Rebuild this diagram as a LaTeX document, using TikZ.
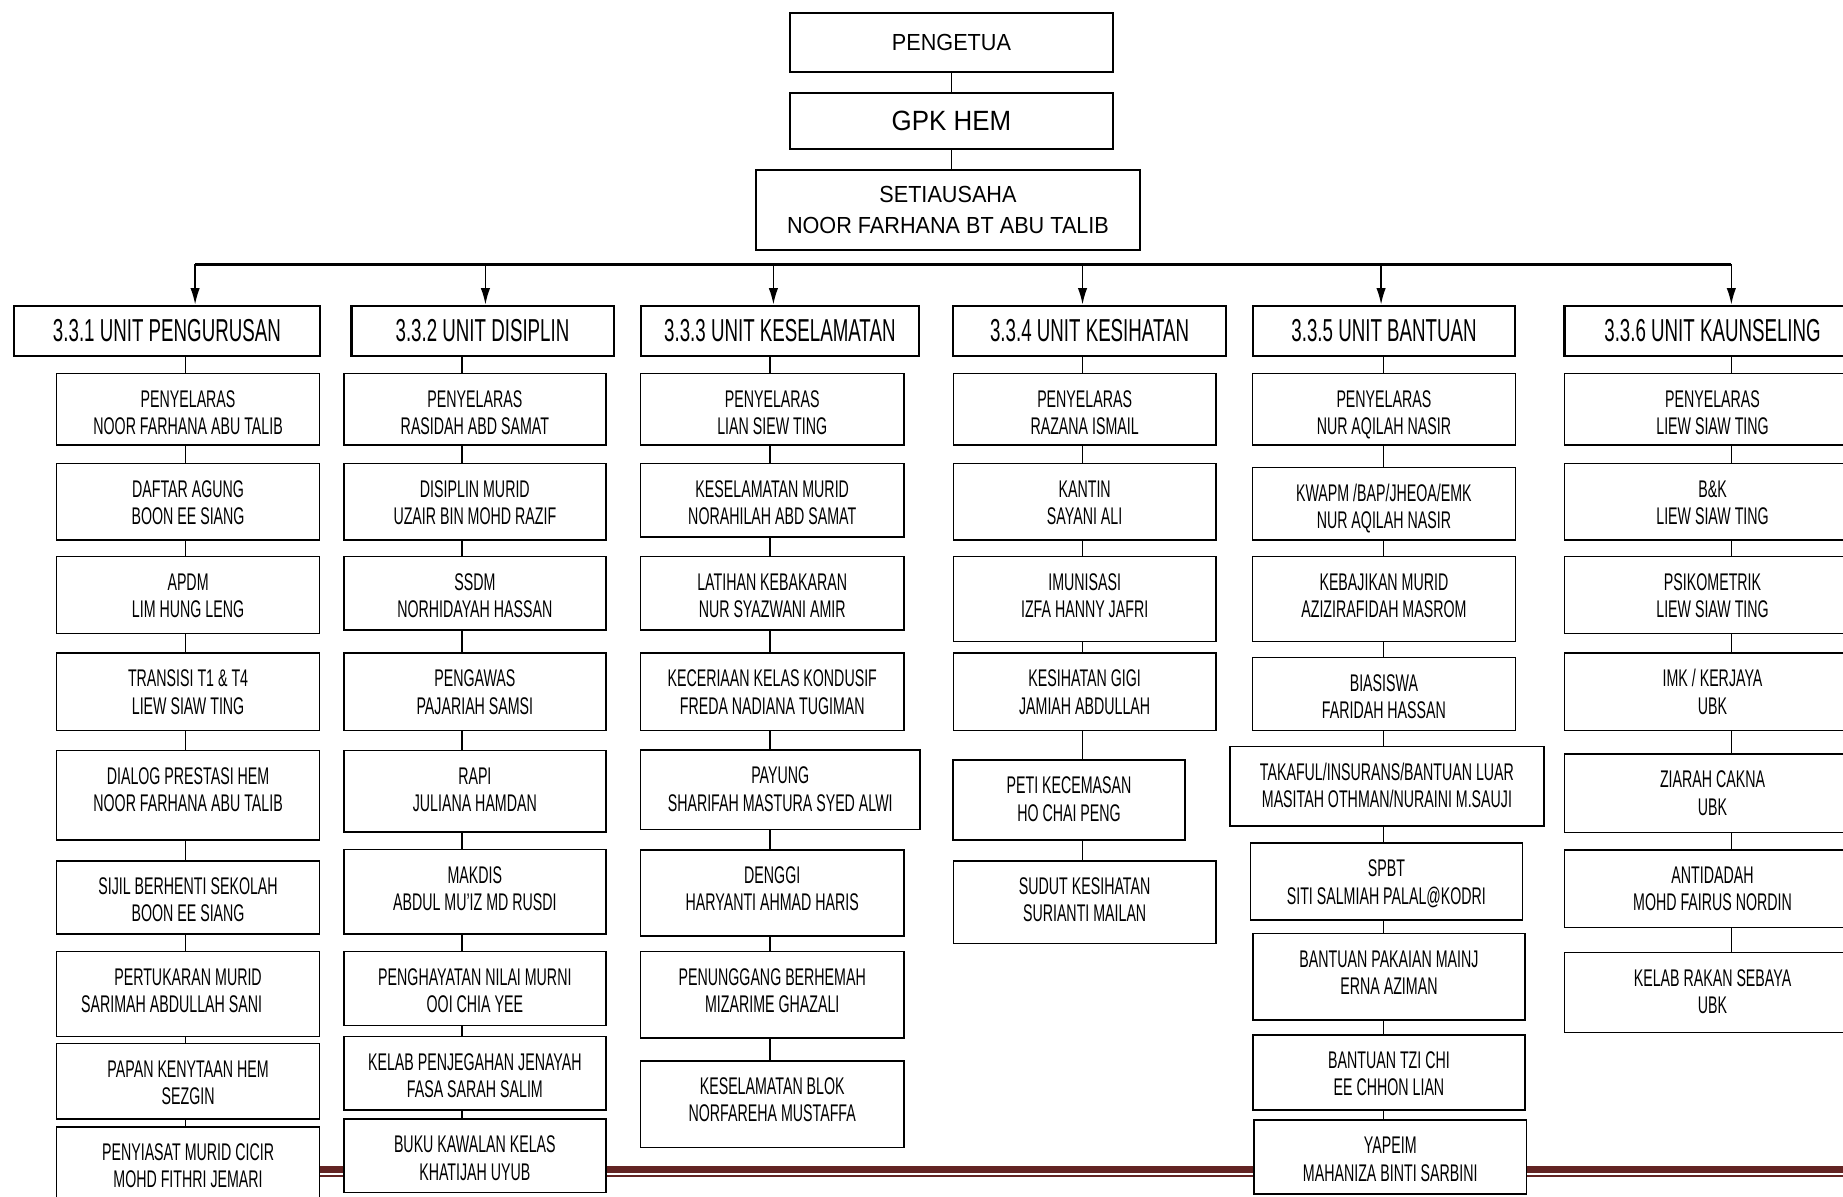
\documentclass[tikz,border=0pt]{standalone}
\usepackage{fontspec}
\setmainfont{Liberation Sans}
\newfontfamily\agency[FakeStretch=0.59]{Liberation Sans}
\newfontfamily\plainsf[FakeStretch=0.93]{Liberation Sans}
\usetikzlibrary{arrows.meta}
\definecolor{footred}{HTML}{632423}

\begin{document}
\begin{tikzpicture}[x=1pt,y=-1pt,
  >={Latex[length=14pt,width=8pt]},
  topbox/.style={draw,line width=1.8pt,fill=white,align=center,inner sep=0pt,
    font=\plainsf\fontsize{19.8}{26.4}\selectfont},
  unitbox/.style={draw,line width=1.8pt,fill=white,inner sep=0pt,minimum height=43pt,
    font=\agency\fontsize{27}{30}\selectfont},
  member/.style={draw,line width=1.3pt,fill=white,anchor=north,align=center,
    inner xsep=0pt,inner ysep=0pt,minimum width=224pt,text height=52pt,
    font=\agency\fontsize{20.5}{23.3}\selectfont},
  link/.style={line width=1.3pt}]

  \useasboundingbox (0,0) rectangle (1568,1018);
  \clip (0,0) rectangle (1568,1018);

  \fill[footred] (48,992) rectangle (1568,998);
  \draw[footred,line width=1.5pt] (48,1000.3) -- (1568,1000.3);

  \node[topbox,minimum width=275pt,minimum height=50pt] (pg) at (809.5,36) {PENGETUA};
  \node[topbox,minimum width=275pt,minimum height=48pt,
    font=\plainsf\fontsize{23.7}{26}\selectfont] (gpk) at (809.5,103) {GPK HEM};
  \node[topbox,minimum width=327pt,minimum height=68pt] (setia) at (806.5,179)
    {SETIAUSAHA\\NOOR FARHANA BT ABU TALIB};

  \draw[link] (pg.south) -- (gpk.north);
  \draw[link] (gpk.south) -- (gpk.south |- setia.north);

  \node[unitbox,minimum width=260pt] (u1) at (142,281.5) {3.3.1 UNIT PENGURUSAN};
  \node[unitbox,minimum width=223pt] (u2) at (410.5,281.5) {3.3.2 UNIT DISIPLIN};
  \node[unitbox,minimum width=237pt] (u3) at (663.5,281.5) {3.3.3 UNIT KESELAMATAN};
  \node[unitbox,minimum width=232pt] (u4) at (927,281.5) {3.3.4 UNIT KESIHATAN};
  \node[unitbox,minimum width=223pt] (u5) at (1177.5,281.5) {3.3.5 UNIT BANTUAN};
  \node[unitbox,minimum width=252pt] (u6) at (1457,281.5) {3.3.6 UNIT KAUNSELING};

  \coordinate (b1) at (166,225);
  \coordinate (b2) at (413,225);
  \coordinate (b3) at (658,225);
  \coordinate (b4) at (921,225);
  \coordinate (b5) at (1175,225);
  \coordinate (b6) at (1473,225);

  \draw[line width=2pt] (b1) -- (b6);
  \draw[->,link] (b1) -- (b1 |- u1.north);
  \draw[->,link] (b2) -- (b2 |- u2.north);
  \draw[->,link] (b3) -- (b3 |- u3.north);
  \draw[->,link] (b4) -- (b4 |- u4.north);
  \draw[->,link] (b5) -- (b5 |- u5.north);
  \draw[->,link] (b6) -- (b6 |- u6.north);

  \node[member,text depth=9pt] (c1n1) at (160,317) {PENYELARAS\\NOOR FARHANA ABU TALIB};
  \node[member,text depth=13.2pt] (c1n2) at (160,393.6) {DAFTAR AGUNG\\BOON EE SIANG};
  \node[member,text depth=13.3pt] (c1n3) at (160,473) {APDM\\LIM HUNG LENG};
  \node[member,text depth=14pt] (c1n4) at (160,555) {TRANSISI T1 \& T4\\LIEW SIAW TING};
  \node[member,text depth=24pt] (c1n5) at (160,638) {DIALOG PRESTASI HEM\\NOOR FARHANA ABU TALIB};
  \node[member,text depth=10.3pt] (c1n6) at (160,731.7) {SIJIL BERHENTI SEKOLAH\\BOON EE SIANG};
  \node[member,text depth=20pt] (c1n7) at (160,809) {PERTUKARAN MURID\\SARIMAH ABDULLAH SANI\hspace*{28pt}};
  \node[member,text depth=12.4pt] (c1n8) at (160,887) {PAPAN KENYTAAN HEM\\SEZGIN};
  \node[member,text depth=20pt] (c1n9) at (160,958) {PENYIASAT MURID CICIR\\MOHD FITHRI JEMARI};

  \node[member,minimum width=223pt,text depth=9pt] (c2n1) at (404,317) {PENYELARAS\\RASIDAH ABD SAMAT};
  \node[member,minimum width=223pt,text depth=13.2pt] (c2n2) at (404,393.6) {DISIPLIN MURID\\UZAIR BIN MOHD RAZIF};
  \node[member,minimum width=223pt,text depth=10.4pt] (c2n3) at (404,473) {SSDM\\NORHIDAYAH HASSAN};
  \node[member,minimum width=223pt,text depth=14pt] (c2n4) at (404,555) {PENGAWAS\\PAJARIAH SAMSI};
  \node[member,minimum width=223pt,text depth=17pt] (c2n5) at (404,638) {RAPI\\JULIANA HAMDAN};
  \node[member,minimum width=223pt,text depth=20pt] (c2n6) at (404,722) {MAKDIS\\ABDUL MU’IZ MD RUSDI};
  \node[member,minimum width=223pt,text depth=11pt] (c2n7) at (404,809) {PENGHAYATAN NILAI MURNI\\OOI CHIA YEE};
  \node[member,minimum width=223pt,text depth=10.8pt] (c2n8) at (404,881) {KELAB PENJEGAHAN JENAYAH\\FASA SARAH SALIM};
  \node[member,minimum width=223pt,text depth=10.4pt] (c2n9) at (404,951.5) {BUKU KAWALAN KELAS\\KHATIJAH UYUB};

  \node[member,text depth=9pt] (c3n1) at (657,317) {PENYELARAS\\LIAN SIEW TING};
  \node[member,text depth=10.4pt] (c3n2) at (657,393.6) {KESELAMATAN MURID\\NORAHILAH ABD SAMAT};
  \node[member,text depth=10.4pt] (c3n3) at (657,473) {LATIHAN KEBAKARAN\\NUR SYAZWANI AMIR};
  \node[member,text depth=14pt] (c3n4) at (657,555) {KECERIAAN KELAS KONDUSIF\\FREDA NADIANA TUGIMAN};
  \node[member,minimum width=237.5pt,text depth=15.5pt] (c3n5) at (663.8,637.5) {PAYUNG\\SHARIFAH MASTURA SYED ALWI};
  \node[member,text depth=21.2pt] (c3n6) at (657,722.3) {DENGGI\\HARYANTI AHMAD HARIS};
  \node[member,text depth=21.5pt] (c3n7) at (657,809) {PENUNGGANG BERHEMAH\\MIZARIME GHAZALI};
  \node[member,text depth=21.8pt] (c3n8) at (657,901.8) {KESELAMATAN BLOK\\NORFAREHA MUSTAFFA};

  \node[member,minimum width=223.5pt,text depth=9pt] (c4n1) at (922.8,317) {PENYELARAS\\RAZANA ISMAIL};
  \node[member,minimum width=223.5pt,text depth=13.2pt] (c4n2) at (922.8,393.6) {KANTIN\\SAYANI ALI};
  \node[member,minimum width=223.5pt,text depth=20pt] (c4n3) at (922.8,473) {IMUNISASI\\IZFA HANNY JAFRI};
  \node[member,minimum width=223.5pt,text depth=14pt] (c4n4) at (922.8,555) {KESIHATAN GIGI\\JAMIAH ABDULLAH};
  \node[member,minimum width=197pt,text depth=16pt] (c4n5) at (909.5,646) {PETI KECEMASAN\\HO CHAI PENG};
  \node[member,minimum width=223.5pt,text depth=18.3pt] (c4n6) at (922.8,731.7) {SUDUT KESIHATAN\\SURIANTI MAILAN};

  \node[member,text depth=9pt] (c5n1) at (1177.4,317) {PENYELARAS\\NUR AQILAH NASIR};
  \node[member,text depth=9.8pt] (c5n2) at (1177.4,397) {KWAPM /BAP/JHEOA/EMK\\NUR AQILAH NASIR};
  \node[member,text depth=20pt] (c5n3) at (1177.4,473) {KEBAJIKAN MURID\\AZIZIRAFIDAH MASROM};
  \node[member,text depth=10.3pt] (c5n4) at (1177.4,558.7) {BIASISWA\\FARIDAH HASSAN};
  \node[member,minimum width=267pt,text depth=15.5pt] (c5n5) at (1180,634.4) {TAKAFUL/INSURANS/BANTUAN LUAR\\MASITAH OTHMAN/NURAINI M.SAUJI};
  \node[member,minimum width=231.6pt,text depth=13.6pt] (c5n6) at (1179.5,716.6) {SPBT\\SITI SALMIAH PALAL@KODRI};
  \node[member,minimum width=231.8pt,text depth=21.7pt] (c5n7) at (1181.7,793.5) {BANTUAN PAKAIAN MAINJ\\ERNA AZIMAN};
  \node[member,minimum width=231.8pt,text depth=12.1pt] (c5n8) at (1181.7,879.7) {BANTUAN TZI CHI\\EE CHHON LIAN};
  \node[member,minimum width=231.6pt,text depth=11pt] (c5n9) at (1182.8,952.3) {YAPEIM\\MAHANIZA BINTI SARBINI};

  \node[member,minimum width=252pt,text depth=9pt] (c6n1) at (1457,317) {PENYELARAS\\LIEW SIAW TING};
  \node[member,minimum width=252pt,text depth=13.2pt] (c6n2) at (1457,393.6) {B\&K\\LIEW SIAW TING};
  \node[member,minimum width=252pt,text depth=13.3pt] (c6n3) at (1457,473) {PSIKOMETRIK\\LIEW SIAW TING};
  \node[member,minimum width=252pt,text depth=14pt] (c6n4) at (1457,555) {IMK / KERJAYA\\UBK};
  \node[member,minimum width=252pt,text depth=14.6pt] (c6n5) at (1457,641) {ZIARAH CAKNA\\UBK};
  \node[member,minimum width=252pt,text depth=14.1pt] (c6n6) at (1457,722.3) {ANTIDADAH\\MOHD FAIRUS NORDIN};
  \node[member,minimum width=252pt,text depth=16pt] (c6n7) at (1457,809.7) {KELAB RAKAN SEBAYA\\UBK};

  \coordinate (s1) at (158,0);
  \coordinate (s2) at (393,0);
  \coordinate (s3) at (655,0);
  \coordinate (s4) at (921,0);
  \coordinate (s5) at (1177,0);
  \coordinate (s6) at (1473,0);

  \draw[link] (u1.south -| s1) -- (c1n1.north -| s1);
  \draw[link] (c1n1.south -| s1) -- (c1n2.north -| s1);
  \draw[link] (c1n2.south -| s1) -- (c1n3.north -| s1);
  \draw[link] (c1n3.south -| s1) -- (c1n4.north -| s1);
  \draw[link] (c1n4.south -| s1) -- (c1n5.north -| s1);
  \draw[link] (c1n5.south -| s1) -- (c1n6.north -| s1);
  \draw[link] (c1n6.south -| s1) -- (c1n7.north -| s1);
  \draw[link] (c1n7.south -| s1) -- (c1n8.north -| s1);
  \draw[link] (c1n8.south -| s1) -- (c1n9.north -| s1);

  \draw[link] (u2.south -| s2) -- (c2n1.north -| s2);
  \draw[link] (c2n1.south -| s2) -- (c2n2.north -| s2);
  \draw[link] (c2n2.south -| s2) -- (c2n3.north -| s2);
  \draw[link] (c2n3.south -| s2) -- (c2n4.north -| s2);
  \draw[link] (c2n4.south -| s2) -- (c2n5.north -| s2);
  \draw[link] (c2n5.south -| s2) -- (c2n6.north -| s2);
  \draw[link] (c2n6.south -| s2) -- (c2n7.north -| s2);
  \draw[link] (c2n7.south -| s2) -- (c2n8.north -| s2);
  \draw[link] (c2n8.south -| s2) -- (c2n9.north -| s2);

  \draw[link] (u3.south -| s3) -- (c3n1.north -| s3);
  \draw[link] (c3n1.south -| s3) -- (c3n2.north -| s3);
  \draw[link] (c3n2.south -| s3) -- (c3n3.north -| s3);
  \draw[link] (c3n3.south -| s3) -- (c3n4.north -| s3);
  \draw[link] (c3n4.south -| s3) -- (c3n5.north -| s3);
  \draw[link] (c3n5.south -| s3) -- (c3n6.north -| s3);
  \draw[link] (c3n6.south -| s3) -- (c3n7.north -| s3);
  \draw[link] (c3n7.south -| s3) -- (c3n8.north -| s3);

  \draw[link] (u4.south -| s4) -- (c4n1.north -| s4);
  \draw[link] (c4n1.south -| s4) -- (c4n2.north -| s4);
  \draw[link] (c4n2.south -| s4) -- (c4n3.north -| s4);
  \draw[link] (c4n3.south -| s4) -- (c4n4.north -| s4);
  \draw[link] (c4n4.south -| s4) -- (c4n5.north -| s4);
  \draw[link] (c4n5.south -| s4) -- (c4n6.north -| s4);

  \draw[link] (u5.south -| s5) -- (c5n1.north -| s5);
  \draw[link] (c5n1.south -| s5) -- (c5n2.north -| s5);
  \draw[link] (c5n2.south -| s5) -- (c5n3.north -| s5);
  \draw[link] (c5n3.south -| s5) -- (c5n4.north -| s5);
  \draw[link] (c5n4.south -| s5) -- (c5n5.north -| s5);
  \draw[link] (c5n5.south -| s5) -- (c5n6.north -| s5);
  \draw[link] (c5n6.south -| s5) -- (c5n7.north -| s5);
  \draw[link] (c5n7.south -| s5) -- (c5n8.north -| s5);
  \draw[link] (c5n8.south -| s5) -- (c5n9.north -| s5);

  \draw[link] (u6.south -| s6) -- (c6n1.north -| s6);
  \draw[link] (c6n1.south -| s6) -- (c6n2.north -| s6);
  \draw[link] (c6n2.south -| s6) -- (c6n3.north -| s6);
  \draw[link] (c6n3.south -| s6) -- (c6n4.north -| s6);
  \draw[link] (c6n4.south -| s6) -- (c6n5.north -| s6);
  \draw[link] (c6n5.south -| s6) -- (c6n6.north -| s6);
  \draw[link] (c6n6.south -| s6) -- (c6n7.north -| s6);

\end{tikzpicture}
\end{document}
